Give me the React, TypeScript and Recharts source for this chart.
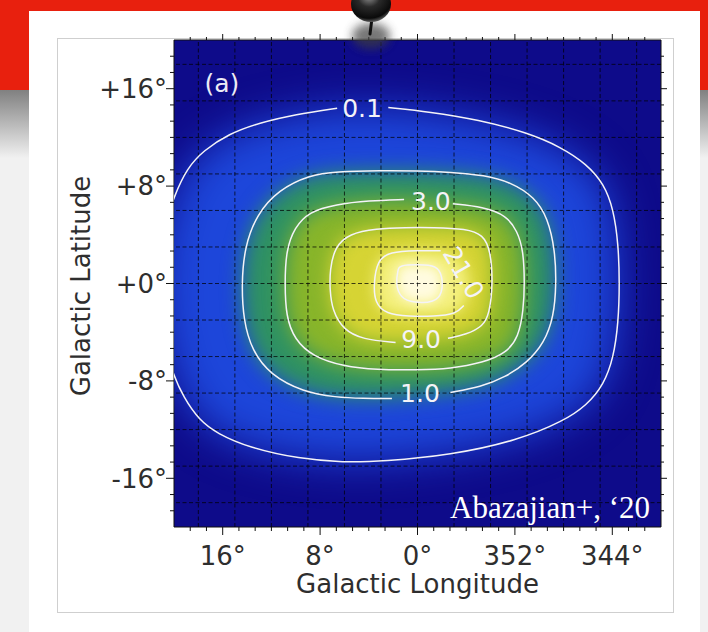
import React from "react";
import { CartesianGrid, Curve, Scatter, ScatterChart, XAxis, YAxis } from "recharts";

type Pt = [number, number];

// Iso-intensity contours as [l, b] in degrees. Labelled contours start just
// after the label gap and run round to just before it.
const CONTOUR_01: Pt[] = [
  [2.4, 14.45], [-1, 14.1], [-5, 13.45], [-9, 12.4], [-11.8, 11.2], [-13.9, 9.8],
  [-15.3, 8.2], [-16.1, 6.1], [-16.5, 3.2], [-16.6, 0], [-16.5, -3.2], [-16.1, -6.1],
  [-15.3, -8.3], [-13.9, -10], [-12, -11.3], [-8.2, -12.9], [-2.7, -14.1], [2.8, -14.6],
  [6.1, -14.7], [9.7, -14.4], [13.8, -13.5], [16.5, -12.3], [17.9, -11.25], [19.2, -9.4],
  [20.2, -7.2], [21, -4], [21.3, 0], [21, 4], [20, 7.2], [18.9, 9.5], [17.6, 10.9],
  [15.5, 12.3], [13, 13.2], [10, 13.9], [6.6, 14.4],
];
const CONTOUR_1: Pt[] = [
  [-2.7, -8.95], [-5.2, -8.5], [-7.2, -7.7], [-9, -6.5], [-10.4, -4.9], [-11.2, -2.7],
  [-11.4, 0], [-11.3, 2.7], [-10.7, 5.4], [-9.6, 7.1], [-7.7, 8.3], [-5.5, 8.9],
  [-2.7, 9.15], [0, 9.25], [3, 9.27], [6.7, 9.2], [8.9, 8.9], [11.4, 7.7], [13.2, 5.7],
  [14.2, 3], [14.45, 0], [14.3, -3], [13.6, -5.5], [12.1, -7.5], [9.4, -8.9], [6.7, -9.35],
  [4.5, -9.45], [2.1, -9.45],
];
const CONTOUR_3: Pt[] = [
  [-2.9, 6.55], [-5.4, 6.3], [-7.3, 5.6], [-8.2, 4.3], [-8.7, 2.7], [-8.8, 0], [-8.7, -2.2],
  [-8.3, -4.4], [-7.3, -5.7], [-5.4, -6.5], [-2.7, -7], [0, -7.1], [3.4, -7.1], [6.1, -6.8],
  [8.6, -6], [10.1, -4.6], [10.8, -2.7], [10.9, 0], [10.8, 2.7], [10.1, 4.6], [8.9, 5.9],
  [6.7, 6.5], [4, 6.8], [1.1, 6.9],
];
const CONTOUR_9: Pt[] = [
  [-2.5, -4.5], [-4, -4.2], [-5.4, -3.5], [-5.9, -2.5], [-6.2, 0], [-6, 2.7], [-5.4, 4],
  [-4, 4.5], [-1.3, 4.6], [1, 4.6], [3.4, 4.5], [5.6, 4.1], [6.8, 3], [7.2, 1.1], [7.2, -0.5],
  [7, -2.2], [6.1, -3.8], [4.5, -4.6], [1.8, -4.85],
];
// last three points sit under the rotated "21.0" label
const CONTOUR_21: Pt[] = [
  [-3.8, -1.8], [-3.2, -2.5], [-1.3, -2.7], [0.7, -2.7], [2.6, -2.5], [3.5, -1.6], [3.6, 0],
  [3.3, 1.9], [2.3, 2.6], [0, 2.7], [-1.9, 2.7], [-3.3, 2.3], [-4.2, 1], [-4.3, -0.5],
];
const CONTOUR_PEAK: Pt[] = [
  [1.5, 1.5], [0, 1.55], [-1.6, 1.5], [-2.05, 0.6], [-2.05, -0.8], [-1.4, -1.55],
  [0.3, -1.6], [1.4, -1.2], [1.8, 0], [1.6, 1.1],
];

const CONTOUR_LABELS = [
  { l: 4.55, b: 14.45, text: "0.1" },
  { l: -1.1, b: 6.8, text: "3.0" },
  { l: -3.8, b: 0.9, text: "21.0" },
  { l: -0.3, b: -4.55, text: "9.0" },
  { l: -0.2, b: -9.0, text: "1.0" },
];
const PANEL_TAG = [{ l: 17.5, b: 16.5, text: "(a)" }];
const CREDIT = [{ l: -19.1, b: -19.3, text: "Abazajian+, \u201820" }];

const LON_TICKS = [16, 8, 0, -8, -16];
const LAT_TICKS = [16, 8, 0, -8, -16];
const GRID_DEG = [-18, -15, -12, -9, -6, -3, 0, 3, 6, 9, 12, 15, 18];
const EDGE = 20;

const SANS = "'DejaVu Sans', sans-serif";
const INK = "#2e2e2e";
const LABEL_ROTATION: Record<string, number> = { "21.0": 60 };

const pts = (c: Pt[]) => c.map(([l, b]) => ({ l, b }));

// each grid value becomes a pair of end points spanning the map
const GRID_V = GRID_DEG.flatMap((v) => [{ l: v, b: -EDGE }, { l: v, b: EDGE }]);
const GRID_H = GRID_DEG.flatMap((v) => [{ l: -EDGE, b: v }, { l: EDGE, b: v }]);

// six minor divisions per labelled step, edges excluded
const withMinor = (major: number[]) => {
  const step = Math.abs(major[0] - major[1]) / 6;
  const out: number[] = [];
  for (let i = 1; i < 30; i++) out.push(-EDGE + i * step);
  return out;
};
const LON_ALL = withMinor(LON_TICKS);
const LAT_ALL = withMinor(LAT_TICKS);
const isOn = (list: number[], v: number) => list.some((t) => Math.abs(t - v) < 1e-6);
const lonText = (v: number) => {
  const r = Math.round(v);
  return `${r >= 0 ? r : 360 + r}\u00b0`;
};
const latText = (v: number) => {
  const r = Math.round(v);
  return r >= 0 ? `+${r}\u00b0` : `${r}\u00b0`;
};

const BottomTick = (p: any) => {
  const major = isOn(LON_TICKS, p.payload.value);
  return (
    <g>
      <line x1={p.x} x2={p.x} y1={p.y} y2={p.y + (major ? 8 : 4)} stroke="#111" />
      {major && (
        <text x={p.x} y={p.y + 38} textAnchor="middle" fontSize={26} fill={INK} fontFamily={SANS}>
          {lonText(p.payload.value)}
        </text>
      )}
    </g>
  );
};
const TopTick = (p: any) => {
  const major = isOn(LON_TICKS, p.payload.value);
  return <line x1={p.x} x2={p.x} y1={p.y} y2={p.y - (major ? 6 : 3)} stroke="#111" />;
};
const LeftTick = (p: any) => {
  const major = isOn(LAT_TICKS, p.payload.value);
  return (
    <g>
      <line x1={p.x} x2={p.x - (major ? 8 : 4)} y1={p.y} y2={p.y} stroke="#111" />
      {major && (
        <text x={p.x - 7} y={p.y} dy="0.36em" textAnchor="end" fontSize={26} fill={INK} fontFamily={SANS}>
          {latText(p.payload.value)}
        </text>
      )}
    </g>
  );
};
const RightTick = (p: any) => {
  const major = isOn(LAT_TICKS, p.payload.value);
  return <line x1={p.x} x2={p.x + (major ? 6 : 3)} y1={p.y} y2={p.y} stroke="#111" />;
};

const noMark = () => <g />;

const filled = (color: string, blur: number) => (p: any) => (
  <g filter={`url(#soft${blur})`}>
    <Curve points={p.points} type="basisClosed" fill={color} stroke="none" />
  </g>
);
const outline = (closed: boolean, hidden: number) => (p: any) => (
  <Curve
    points={hidden ? p.points.slice(0, p.points.length - hidden) : p.points}
    type={closed ? "basisClosed" : "basis"}
    fill="none"
    stroke="#f4f3f8"
    strokeWidth={1.5}
  />
);
// dashed grid: consecutive point pairs are drawn as separate segments
const gridSegments = (p: any) => {
  const segs = [];
  for (let i = 0; i + 1 < p.points.length; i += 2) {
    const a = p.points[i];
    const z = p.points[i + 1];
    segs.push(<line key={i} x1={a.x} y1={a.y} x2={z.x} y2={z.y} />);
  }
  return (
    <g stroke="#000" strokeOpacity={0.72} strokeWidth={1} strokeDasharray="4 2.5">
      {segs}
    </g>
  );
};

const LAYERS = [
  { data: CONTOUR_01, color: "#1d46da", blur: 20, closed: false, hidden: 0 },
  { data: CONTOUR_1, color: "#2f9262", blur: 10, closed: false, hidden: 0 },
  { data: CONTOUR_3, color: "#88b52a", blur: 10, closed: false, hidden: 0 },
  { data: CONTOUR_9, color: "#d6d434", blur: 9, closed: false, hidden: 0 },
  { data: CONTOUR_21, color: "#f4f07e", blur: 7, closed: false, hidden: 3 },
  { data: CONTOUR_PEAK, color: "#fffbe0", blur: 6, closed: true, hidden: 0 },
];
const BLURS = [20, 10, 9, 7, 6];

const contourLabel = (p: any) => {
  const rot = LABEL_ROTATION[p.payload.text] ?? 0;
  return (
    <text
      x={p.cx}
      y={p.cy}
      dy="0.36em"
      textAnchor="middle"
      transform={rot ? `rotate(${rot} ${p.cx} ${p.cy})` : undefined}
      fontSize={25}
      fill="#f4f3f8"
      fontFamily={SANS}
    >
      {p.payload.text}
    </text>
  );
};
const panelTag = (p: any) => (
  <text x={p.cx} y={p.cy} dy="0.36em" fontSize={25} fill="#ecebf6" fontFamily={SANS}>
    {p.payload.text}
  </text>
);
const credit = (p: any) => (
  <text x={p.cx} y={p.cy} textAnchor="end" fontSize={31} fill="#ffffff" fontFamily="'Liberation Serif', serif">
    {p.payload.text}
  </text>
);

function BlurDefs() {
  return (
    <svg width={0} height={0} style={{ position: "absolute" }}>
      <defs>
        {BLURS.map((s) => (
          <filter key={s} id={`soft${s}`} x="-50%" y="-50%" width="200%" height="200%" colorInterpolationFilters="sRGB">
            <feGaussianBlur stdDeviation={s} />
          </filter>
        ))}
        <filter id="pinShadow" x="-100%" y="-100%" width="300%" height="300%">
          <feGaussianBlur stdDeviation={5} />
        </filter>
        <radialGradient id="pinHead" cx="45%" cy="30%" r="70%">
          <stop offset="0%" stopColor="#8e8e8e" />
          <stop offset="40%" stopColor="#2a2a2a" />
          <stop offset="85%" stopColor="#0a0a0a" />
          <stop offset="100%" stopColor="#5a5a5a" />
        </radialGradient>
      </defs>
    </svg>
  );
}

function Pin() {
  return (
    <svg width={80} height={70} style={{ position: "absolute", left: 331, top: 0 }}>
      <ellipse cx={40} cy={36} rx={19} ry={13} fill="#3c3c3c" opacity={0.7} filter="url(#pinShadow)" />
      <line x1={41} y1={18} x2={39} y2={34} stroke="#111" strokeWidth={3} strokeLinecap="round" />
      <ellipse cx={40} cy={4} rx={20} ry={18} fill="url(#pinHead)" />
    </svg>
  );
}

export default function App() {
  return (
    <div style={{ position: "absolute", left: 0, top: 0, width: 708, height: 632, overflow: "hidden", background: "#f1f1f1" }}>
      <div style={{ position: "absolute", left: 0, top: 88, width: 708, height: 70, background: "linear-gradient(#7d7d7d, #f1f1f1)" }} />
      <div style={{ position: "absolute", left: 0, top: 0, width: 708, height: 90, background: "#e8200e" }} />
      <div style={{ position: "absolute", left: 29, top: 11, width: 671, height: 640, background: "#ffffff" }} />
      <div style={{ position: "absolute", left: 57, top: 38, width: 615, height: 573, border: "1px solid #cfcfcf" }} />
      <BlurDefs />
      <div style={{ position: "absolute", left: 0, top: 0 }}>
        <ScatterChart width={708} height={632} margin={{ top: 30, right: 37, bottom: 41, left: 74 }}>
          <CartesianGrid fill="#0e0b8a" horizontal={false} vertical={false} stroke="none" />
          <XAxis
            type="number"
            dataKey="l"
            domain={[-EDGE, EDGE]}
            reversed
            allowDataOverflow
            ticks={LON_ALL}
            interval={0}
            height={64}
            tick={BottomTick}
            tickLine={false}
            tickSize={0}
            tickMargin={0}
            axisLine={{ stroke: "#111" }}
            label={{ value: "Galactic Longitude", position: "insideBottom", offset: -2, fontSize: 26, fill: INK, fontFamily: SANS }}
          />
          <XAxis
            xAxisId="top"
            orientation="top"
            type="number"
            dataKey="l"
            domain={[-EDGE, EDGE]}
            reversed
            allowDataOverflow
            ticks={LON_ALL}
            interval={0}
            height={10}
            tick={TopTick}
            tickLine={false}
            tickSize={0}
            tickMargin={0}
            axisLine={{ stroke: "#111" }}
          />
          <YAxis
            type="number"
            dataKey="b"
            domain={[-EDGE, EDGE]}
            allowDataOverflow
            ticks={LAT_ALL}
            interval={0}
            width={100}
            tick={LeftTick}
            tickLine={false}
            tickSize={0}
            tickMargin={0}
            axisLine={{ stroke: "#111" }}
            label={{
              content: (p: any) => {
                const vb = p.viewBox;
                const cx = vb.x + 16;
                const cy = vb.y + vb.height / 2 + 2.5;
                return (
                  <text x={cx} y={cy} textAnchor="middle" transform={`rotate(-90 ${cx} ${cy})`} fontSize={26} fill={INK} fontFamily={SANS}>
                    Galactic Latitude
                  </text>
                );
              },
            }}
          />
          <YAxis
            yAxisId="right"
            orientation="right"
            type="number"
            dataKey="b"
            domain={[-EDGE, EDGE]}
            allowDataOverflow
            ticks={LAT_ALL}
            interval={0}
            width={10}
            tick={RightTick}
            tickLine={false}
            tickSize={0}
            tickMargin={0}
            axisLine={{ stroke: "#111" }}
          />

          {LAYERS.map((ly, i) => (
            <Scatter key={`fill-${i}`} data={pts(ly.data)} shape={noMark} line={filled(ly.color, ly.blur)} isAnimationActive={false} />
          ))}

          <Scatter data={GRID_V} shape={noMark} line={gridSegments} isAnimationActive={false} />
          <Scatter data={GRID_H} shape={noMark} line={gridSegments} isAnimationActive={false} />

          {LAYERS.map((ly, i) => (
            <Scatter key={`line-${i}`} data={pts(ly.data)} shape={noMark} line={outline(ly.closed, ly.hidden)} isAnimationActive={false} />
          ))}

          <Scatter data={CONTOUR_LABELS} shape={contourLabel} isAnimationActive={false} />
          <Scatter data={PANEL_TAG} shape={panelTag} isAnimationActive={false} />
          <Scatter data={CREDIT} shape={credit} isAnimationActive={false} />
        </ScatterChart>
      </div>
      <Pin />
    </div>
  );
}
